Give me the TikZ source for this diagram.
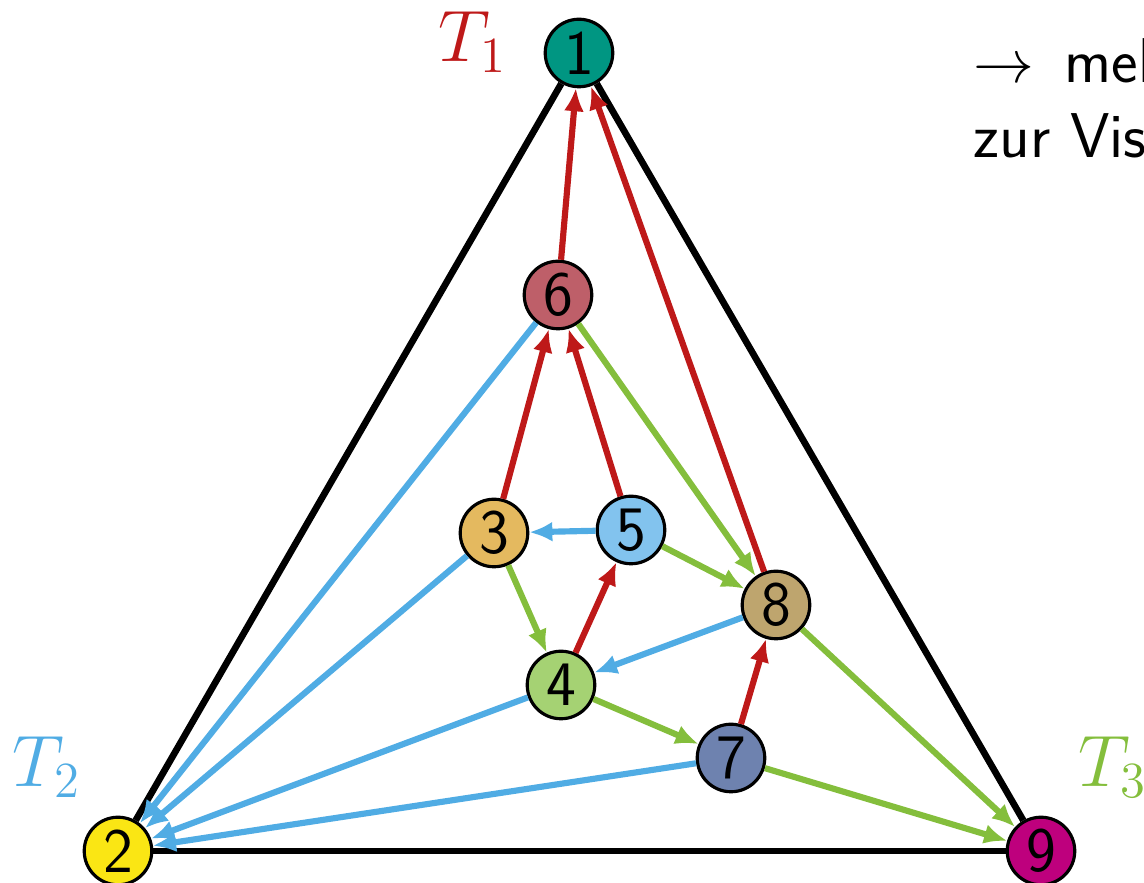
\documentclass[tikz,border=0pt]{standalone}
\usepackage{fontspec}
\usetikzlibrary{arrows.meta}
\definecolor{cA}{RGB}{0,150,130}
\definecolor{cB}{RGB}{250,230,20}
\definecolor{cI}{RGB}{190,0,125}
\definecolor{cF}{RGB}{190,95,105}
\definecolor{cC}{RGB}{228,185,95}
\definecolor{cE}{RGB}{130,195,238}
\definecolor{cH}{RGB}{190,165,110}
\definecolor{cD}{RGB}{165,210,115}
\definecolor{cG}{RGB}{110,130,175}
\definecolor{ered}{RGB}{190,25,25}
\definecolor{eblue}{RGB}{80,172,228}
\definecolor{egreen}{RGB}{132,190,60}
\tikzset{
  vtx/.style={circle,draw=black,line width=0.9pt,minimum size=0.675cm,inner sep=0pt,
    font=\sffamily\fontsize{18}{20}\selectfont},
  frame/.style={line width=1.9pt,black},
  tedge/.style={line width=1.75pt,-{Latex[length=0.23cm,width=0.2cm]}},
  tred/.style={tedge,ered},
  tblue/.style={tedge,eblue},
  tgreen/.style={tedge,egreen},
  tlab/.style={font=\fontsize{20.7}{24}\selectfont},
  txt/.style={font=\sffamily\fontsize{18}{22}\selectfont,inner sep=0pt,anchor=base west}
}
\begin{document}
\begin{tikzpicture}[x=0.01cm,y=-0.01cm]
\clip (0,0) rectangle (1144,883);
\node[vtx,fill=cA] (n1) at (579,53) {1};
\node[vtx,fill=cB] (n2) at (118,851) {2};
\node[vtx,fill=cI] (n9) at (1041,851) {9};
\node[vtx,fill=cF] (n6) at (558,295) {6};
\node[vtx,fill=cC] (n3) at (494,533) {3};
\node[vtx,fill=cE] (n5) at (631,530) {5};
\node[vtx,fill=cH] (n8) at (776,605) {8};
\node[vtx,fill=cD] (n4) at (561,685) {4};
\node[vtx,fill=cG] (n7) at (731,758) {7};
\draw[frame] (n1) -- (n2);
\draw[frame] (n1) -- (n9);
\draw[frame] (n2) -- (n9);
% T1 red
\draw[tred] (n6) -- (n1);
\draw[tred] (n8) -- (n1);
\draw[tred] (n3) -- (n6);
\draw[tred] (n5) -- (n6);
\draw[tred] (n4) -- (n5);
\draw[tred] (n7) -- (n8);
% T2 blue
\draw[tblue] (n6) -- (n2);
\draw[tblue] (n3) -- (n2);
\draw[tblue] (n4) -- (n2);
\draw[tblue] (n7) -- (n2);
\draw[tblue] (n5) -- (n3);
\draw[tblue] (n8) -- (n4);
% T3 green
\draw[tgreen] (n6) -- (n8);
\draw[tgreen] (n5) -- (n8);
\draw[tgreen] (n3) -- (n4);
\draw[tgreen] (n4) -- (n7);
\draw[tgreen] (n8) -- (n9);
\draw[tgreen] (n7) -- (n9);
% labels
\node[tlab,text=ered] (t1) at (473,42) {$T_1$};
\node[tlab,text=eblue] (t2) at (47,767) {$T_2$};
\node[tlab,text=egreen,anchor=west,inner sep=0pt] (t3) at (1078,767) {$T_3$};
\node[txt] (l1) at (973,83) {$\rightarrow$\ \kern3pt mehr};
\node[txt] (l2) at (973,158) {zur Vis};
\end{tikzpicture}
\end{document}
